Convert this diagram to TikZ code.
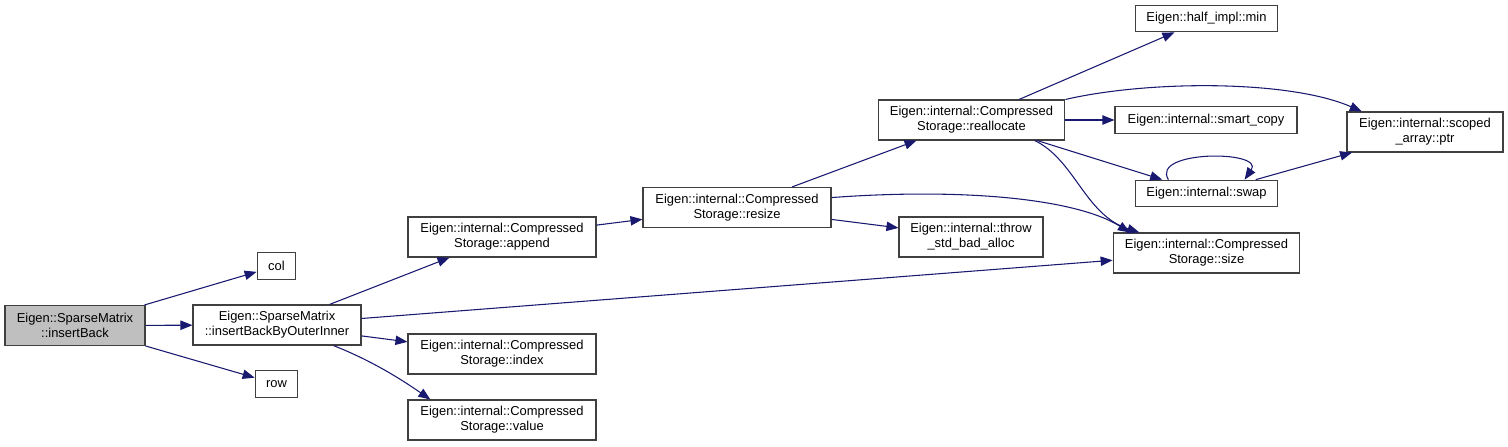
\documentclass[tikz,border=0pt]{standalone}
\usepackage{fontspec}
\setmainfont{Liberation Sans}
\usetikzlibrary{arrows.meta}

\definecolor{edgeblue}{RGB}{25,25,112}
\definecolor{boxline}{RGB}{64,64,64}
\definecolor{rootfill}{RGB}{191,191,191}

\begin{document}
\begin{tikzpicture}[x=0.75pt, y=-0.75pt,
  box/.style={draw=boxline, line width=0.8pt, fill=white, align=center, inner sep=0pt,
    minimum height=30pt, font=\fontsize{9.7}{11.3}\selectfont},
  small/.style={box, minimum height=20pt},
  edge/.style={draw=edgeblue, line width=0.8pt, -{Triangle[length=9pt, width=7pt]}}]
  \useasboundingbox (0, 0) rectangle (1508, 446);

  % Caller
  \node[box, fill=rootfill, minimum width=105pt] (insertBack) at (75, 325.5) {Eigen::SparseMatrix\\::insertBack};

  % First level
  \node[small, minimum width=29pt] (col) at (276.5, 266) {col};
  \node[small, minimum width=32pt] (row) at (276.5, 384) {row};
  \node[box, minimum width=126pt] (outerInner) at (277, 325) {Eigen::SparseMatrix\\::insertBackByOuterInner};

  % Compressed storage calls
  \node[box, minimum width=141pt] (append) at (502, 237) {Eigen::internal::Compressed\\Storage::append};
  \node[box, minimum width=141pt] (index) at (502, 354) {Eigen::internal::Compressed\\Storage::index};
  \node[box, minimum width=141pt] (value) at (502, 420) {Eigen::internal::Compressed\\Storage::value};
  \node[box, minimum width=141pt] (resize) at (737, 207.5) {Eigen::internal::Compressed\\Storage::resize};
  \node[box, minimum width=108pt] (throw) at (971, 237) {Eigen::internal::throw\\\_std\_bad\_alloc};
  \node[box, minimum width=140pt] (reallocate) at (971.5, 120) {Eigen::internal::Compressed\\Storage::reallocate};

  % Right column
  \node[small, minimum width=107pt] (min) at (1206.5, 18.5) {Eigen::half\_impl::min};
  \node[small, minimum width=136.5pt] (smartCopy) at (1206, 120) {Eigen::internal::smart\_copy};
  \node[small, minimum width=107pt] (swap) at (1206.5, 193.5) {Eigen::internal::swap};
  \node[box, minimum width=140pt] (size) at (1206.5, 253) {Eigen::internal::Compressed\\Storage::size};
  \node[box, minimum width=117pt] (ptr) at (1425, 132) {Eigen::internal::scoped\\\_array::ptr};

  % Edges
  \draw[edge] (insertBack) -- (col);
  \draw[edge] (insertBack) -- (outerInner);
  \draw[edge] (insertBack) -- (row);
  \draw[edge] (outerInner) -- (append);
  \draw[edge] (outerInner) -- (size);
  \draw[edge] (outerInner) -- (index);
  \draw[edge] (outerInner.-20) .. controls (375, 362) and (405, 382) .. (value.164);
  \draw[edge] (append) -- (resize);
  \draw[edge] (resize) -- (reallocate);
  \draw[edge] (resize.6) .. controls (960, 188) and (1075, 198) .. (size.165);
  \draw[edge] (resize) -- (throw);
  \draw[edge] (reallocate) -- (min);
  \draw[edge] (reallocate.north east) .. controls (1150, 80) and (1290, 80) .. (ptr.162);
  \draw[edge] (reallocate) -- (smartCopy);
  \draw[edge] (reallocate) -- (swap);
  \draw[edge] (reallocate.-18) .. controls (1075, 160) and (1085, 215) .. (size.163);
  \draw[edge] (swap.160) .. controls (1150, 150) and (1265, 150) .. (swap.20);
  \draw[edge] (swap) -- (ptr);
\end{tikzpicture}
\end{document}
